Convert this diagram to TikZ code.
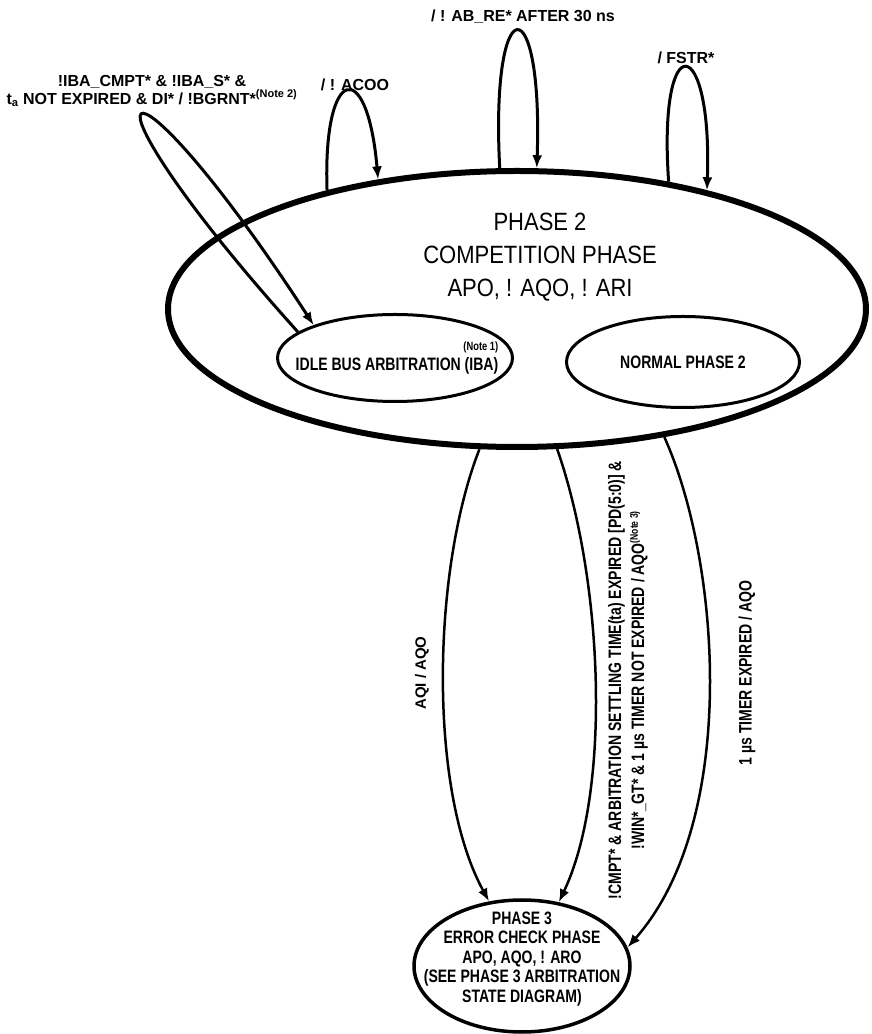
\documentclass[tikz,border=0pt]{standalone}
\usepackage{fontspec}
\setmainfont{Liberation Sans}
\newfontfamily\titlefont[FakeStretch=0.88]{Liberation Sans}
\newfontfamily\labelfont[FakeStretch=0.78]{Liberation Sans}
\usepackage{tikz}
\usetikzlibrary{arrows.meta,shapes.geometric}
\newcommand{\note}[1]{\textsuperscript{\fontsize{11}{11}\selectfont(Note #1)}}
\newcommand{\sizedfont}[2]{\fontsize{#1}{#2}\selectfont}

\begin{document}
\begin{tikzpicture}[x=1pt,y=1pt,
	state/.style={draw,ellipse,inner sep=0pt},
	stext/.style={align=center,font=\labelfont\bfseries\sizedfont{18}{19.5}},
	looplabel/.style={font=\bfseries\sizedfont{16}{18}},
	arclabel/.style={font=\labelfont\bfseries\sizedfont{18}{23}},
	loop/.style={line width=3pt,-{Latex[length=13pt,width=10pt]}},
	arc/.style={line width=2.5pt,-{Latex[length=13pt,width=10pt]}}]
	\useasboundingbox (0,0) rectangle (872,1034);
	% phase 2 with its two sub-states
	\node[state,line width=6pt,minimum width=698pt,minimum height=276pt] (ph2) at (517,725) {};
	\node[align=center,font=\titlefont\sizedfont{25}{33}] (ph2text) at (540,777) {PHASE 2\\COMPETITION PHASE\\APO, ! AQO, ! ARI};
	\node[state,line width=3pt,minimum width=235pt,minimum height=87pt] (iba) at (395,676) {};
	\node[stext,align=right] (ibatext) at (397,676) {{\sizedfont{12}{16}(Note 1)}\\IDLE BUS ARBITRATION (IBA)};
	\node[state,line width=3pt,minimum width=233pt,minimum height=91pt] (norm) at (683,672) {};
	\node[stext] (normtext) at (norm) {NORMAL PHASE 2};
	% phase 3
	\node[state,line width=3.5pt,minimum width=216pt,minimum height=132pt] (ph3) at (522,68) {};
	\node[stext] (ph3text) at (522,75) {PHASE 3\\ERROR CHECK PHASE\\APO, AQO, ! ARO\\(SEE PHASE 3 ARBITRATION\\STATE DIAGRAM)};

	% self loops
	\draw[loop] (ph2.148) .. controls +(92:125) and +(95:125) .. (ph2.137);
	\draw[loop] (ph2.97) .. controls +(93:183) and +(88:183) .. (ph2.82);
	\draw[loop] (ph2.40) .. controls +(94:158) and +(88:158) .. (ph2.32);
	\draw[loop] (iba.165) .. controls +(132:360) and +(123:360) .. (iba.158);
	\node[looplabel] (lacoo) at (355,949) {/ ! ACOO};
	\node[looplabel] (labre) at (523,1017) {/ ! AB\_RE* AFTER 30 ns};
	\node[looplabel] (lfstr) at (686,976) {/ FSTR*};
	\node[looplabel,align=center] (liba) at (152,943) {!IBA\_CMPT* \& !IBA\_S* \&\\t\textsubscript{a} NOT EXPIRED \& DI* / !BGRNT*\note{2}};

	% phase 2 to phase 3
	\draw[arc] (ph2.255) .. controls (432,464) and (428,244) .. (ph3.117);
	\draw[arc] (ph2.286) .. controls (603,454) and (612,244) .. (ph3.60);
	\draw[arc] (ph2.319) .. controls (720,474) and (740,214) .. (ph3.10);
	\node[looplabel,rotate=90,font=\bfseries\sizedfont{15}{18}] (laqi) at (422,361) {AQI / AQO};
	\node[arclabel,rotate=90,align=center] (lcmpt) at (628,354) {!CMPT* \& ARBITRATION SETTLING TIME(ta) EXPIRED [PD(5:0)] \&\\!WIN*\_GT* \& 1 µs TIMER NOT EXPIRED / AQO\note{3}};
	\node[arclabel,rotate=90] (ltimer) at (747,361) {1 µs TIMER EXPIRED / AQO};
\end{tikzpicture}
\end{document}
